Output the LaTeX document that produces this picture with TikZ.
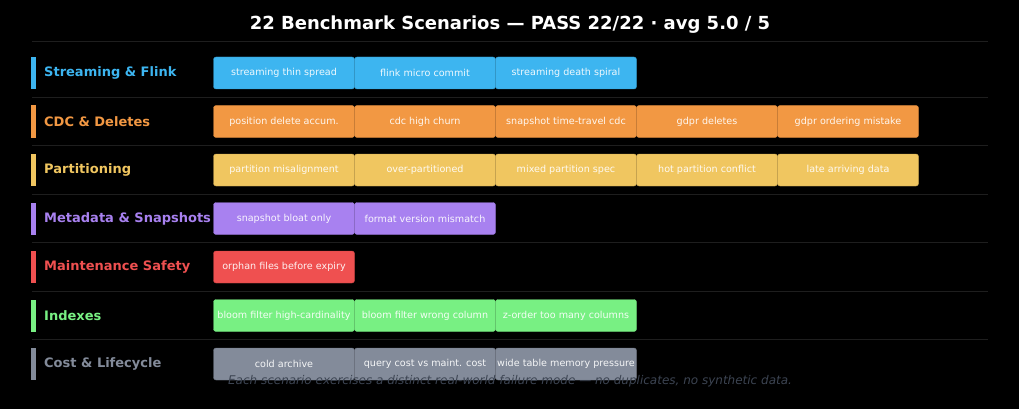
\documentclass[tikz,border=0pt]{standalone}
\usepackage{fontspec}
\setmainfont{DejaVu Sans}
\usetikzlibrary{positioning}
\definecolor{cblue}{HTML}{3DB5F0}
\definecolor{corange}{HTML}{F29843}
\definecolor{cyellow}{HTML}{F0C660}
\definecolor{cpurple}{HTML}{A881F0}
\definecolor{cred}{HTML}{EF5050}
\definecolor{cgreen}{HTML}{78F083}
\definecolor{cgray}{HTML}{838B9A}
\definecolor{rule}{HTML}{1E1E1E}
\definecolor{foot}{HTML}{3C4452}
\tikzset{
  chip/.style={fill=#1, draw=#1!85!black, line width=0.4pt, rounded corners=2.5pt,
    minimum width=141pt, minimum height=32pt, inner sep=0pt,
    text=white!92!#1, font=\fontsize{9.6}{11}\selectfont},
  grouplabel/.style={anchor=west, inner sep=0pt, text=#1, font=\bfseries\fontsize{13}{15}\selectfont},
  accent/.style={fill=#1, draw=none},
}
\begin{document}
\begin{tikzpicture}[x=1pt, y=-1pt]
  \useasboundingbox[fill=black] (0,0) rectangle (1019,409);
  \node[text=white, font=\bfseries\fontsize{18}{20}\selectfont] (title) at (510,25) {22 Benchmark Scenarios — PASS 22/22 · avg 5.0 / 5};
  \draw[rule] (32,41) -- (988,41);
  % one row per group
  \foreach \n/\c/\lab/\items [count=\i from 0] in {
    a/cblue/{Streaming \& Flink}/{streaming thin spread,flink micro commit,streaming death spiral},
    b/corange/{CDC \& Deletes}/{position delete accum.,cdc high churn,snapshot time-travel cdc,gdpr deletes,gdpr ordering mistake},
    c/cyellow/{Partitioning}/{partition misalignment,over-partitioned,mixed partition spec,hot partition conflict,late arriving data},
    d/cpurple/{Metadata \& Snapshots}/{snapshot bloat only,format version mismatch},
    e/cred/{Maintenance Safety}/{orphan files before expiry},
    f/cgreen/{Indexes}/{bloom filter high-cardinality,bloom filter wrong column,z-order too many columns},
    g/cgray/{Cost \& Lifecycle}/{cold archive,query cost vs maint. cost,wide table memory pressure}} {
    \pgfmathsetmacro{\yc}{73+48.5*\i}
    \fill[accent=\c] (31,\yc-16) rectangle (36,\yc+16);
    \node[grouplabel=\c] (\n-lab) at (44,\yc) {\lab};
    \foreach \t [count=\j from 0] in \items {
      \node[chip=\c] (\n-\j) at (284+141*\j,\yc) {\t};
    }
    \ifnum\i>0 \draw[rule] (32,\yc-24.5) -- (988,\yc-24.5); \fi
  }
  \node[text=foot, font=\itshape\fontsize{12}{14}\selectfont] (note) at (510,381) {Each scenario exercises a distinct real-world failure mode — no duplicates, no synthetic data.};
\end{tikzpicture}
\end{document}
